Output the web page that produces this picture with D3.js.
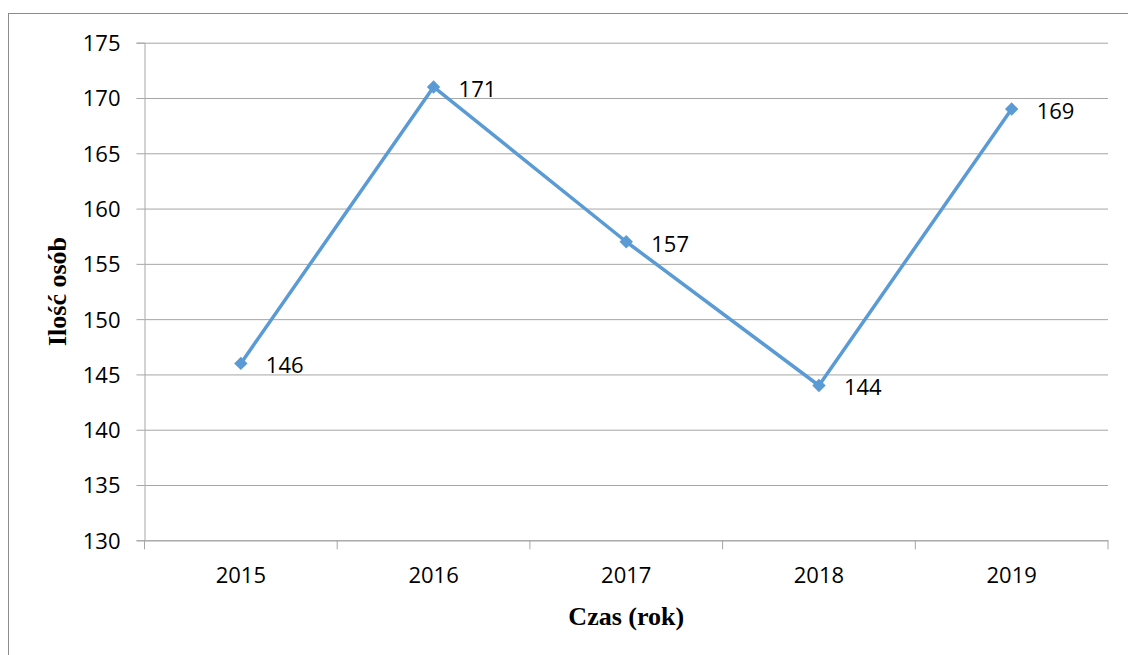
<!DOCTYPE html>
<meta charset="utf-8">
<style>
    body { margin: 0; background: white; }
    svg { display: block; }
    .tick text { font-family: "Open Sans", sans-serif; font-size: 22px; fill: #000; }
    .title { font-family: "Liberation Serif", "Times New Roman", serif; font-weight: bold; font-size: 26px; }
    .label { font-family: "Open Sans", sans-serif; font-size: 22px; }
</style>
<svg width="1128" height="655"></svg>
<script src="https://cdn.jsdelivr.net/npm/d3@7"></script>
<script>
    var years = ["2015", "2016", "2017", "2018", "2019"];
    var people = [146, 171, 157, 144, 169];
    var yTicks = [130, 135, 140, 145, 150, 155, 160, 165, 170, 175];

    var svg = d3.select("svg"),
        plotLeft = 144.5,
        plotRight = 1108,
        plotTop = 42.7,
        plotBottom = 540.3,
        grey = "#a6a6a6",
        blue = "#5b9bd5";

    // outer frame, runs off the right and bottom edges
    svg.append("rect")
        .attr("x", 8.5)
        .attr("y", 13.5)
        .attr("width", 1200)
        .attr("height", 800)
        .style("fill", "none")
        .style("stroke", "#8c8c8c");

    var x = d3.scaleBand().domain(years).range([plotLeft, plotRight]);
    var y = d3.scaleLinear().domain([130, 175]).range([plotBottom, plotTop]);

    // gridlines + y axis
    var yAxis = svg.append("g")
        .attr("transform", "translate(" + plotLeft + ",0)")
        .call(d3.axisLeft(y).tickValues(yTicks).tickSize(8).tickPadding(16));
    yAxis.select(".domain").style("stroke", grey);
    yAxis.selectAll(".tick line").style("stroke", grey);
    yAxis.selectAll(".tick").append("line")
        .attr("x1", 0)
        .attr("x2", plotRight - plotLeft)
        .style("stroke", grey);
    yAxis.selectAll(".tick text").attr("dy", "0.36em");

    // x axis, ticks between categories
    var xAxis = svg.append("g")
        .attr("transform", "translate(0," + plotBottom + ")")
        .call(d3.axisBottom(x).tickSize(0).tickPadding(35));
    xAxis.select(".domain").style("stroke", grey);
    xAxis.selectAll(".tick text").attr("dy", "0.36em");

    svg.append("g").selectAll("line")
        .data(years.concat(["end"]))
        .enter().append("line")
        .attr("x1", function(d, i) { return i < years.length ? x(d) : plotRight; })
        .attr("x2", function(d, i) { return i < years.length ? x(d) : plotRight; })
        .attr("y1", plotBottom)
        .attr("y2", plotBottom + 9)
        .style("stroke", grey);

    var pts = years.map(function(d, i) {
        return { year: d, value: people[i] };
    });

    var line = d3.line()
        .x(function(d) { return x(d.year) + x.bandwidth() / 2; })
        .y(function(d) { return y(d.value); });

    svg.append("path")
        .datum(pts)
        .attr("d", line)
        .style("fill", "none")
        .style("stroke", blue)
        .style("stroke-width", 3.5)
        .style("stroke-linejoin", "round");

    svg.selectAll(".marker")
        .data(pts)
        .enter().append("path")
        .attr("class", "marker")
        .attr("d", d3.symbol().type(d3.symbolSquare).size(90))
        .attr("transform", function(d) {
            return "translate(" + (x(d.year) + x.bandwidth() / 2) + "," + y(d.value) + ") rotate(45)";
        })
        .style("fill", blue);

    svg.selectAll(".label")
        .data(pts)
        .enter().append("text")
        .attr("class", "label")
        .attr("x", function(d) { return x(d.year) + x.bandwidth() / 2 + 25; })
        .attr("y", function(d) { return y(d.value) + 2; })
        .attr("dy", "0.36em")
        .text(function(d) { return d.value; });

    svg.append("text")
        .attr("class", "title")
        .attr("x", (plotLeft + plotRight) / 2)
        .attr("y", 625)
        .attr("text-anchor", "middle")
        .text("Czas (rok)");

    svg.append("text")
        .attr("class", "title")
        .attr("transform", "translate(66," + (plotTop + plotBottom) / 2 + ") rotate(-90)")
        .attr("text-anchor", "middle")
        .text("Ilość osób");
</script>
